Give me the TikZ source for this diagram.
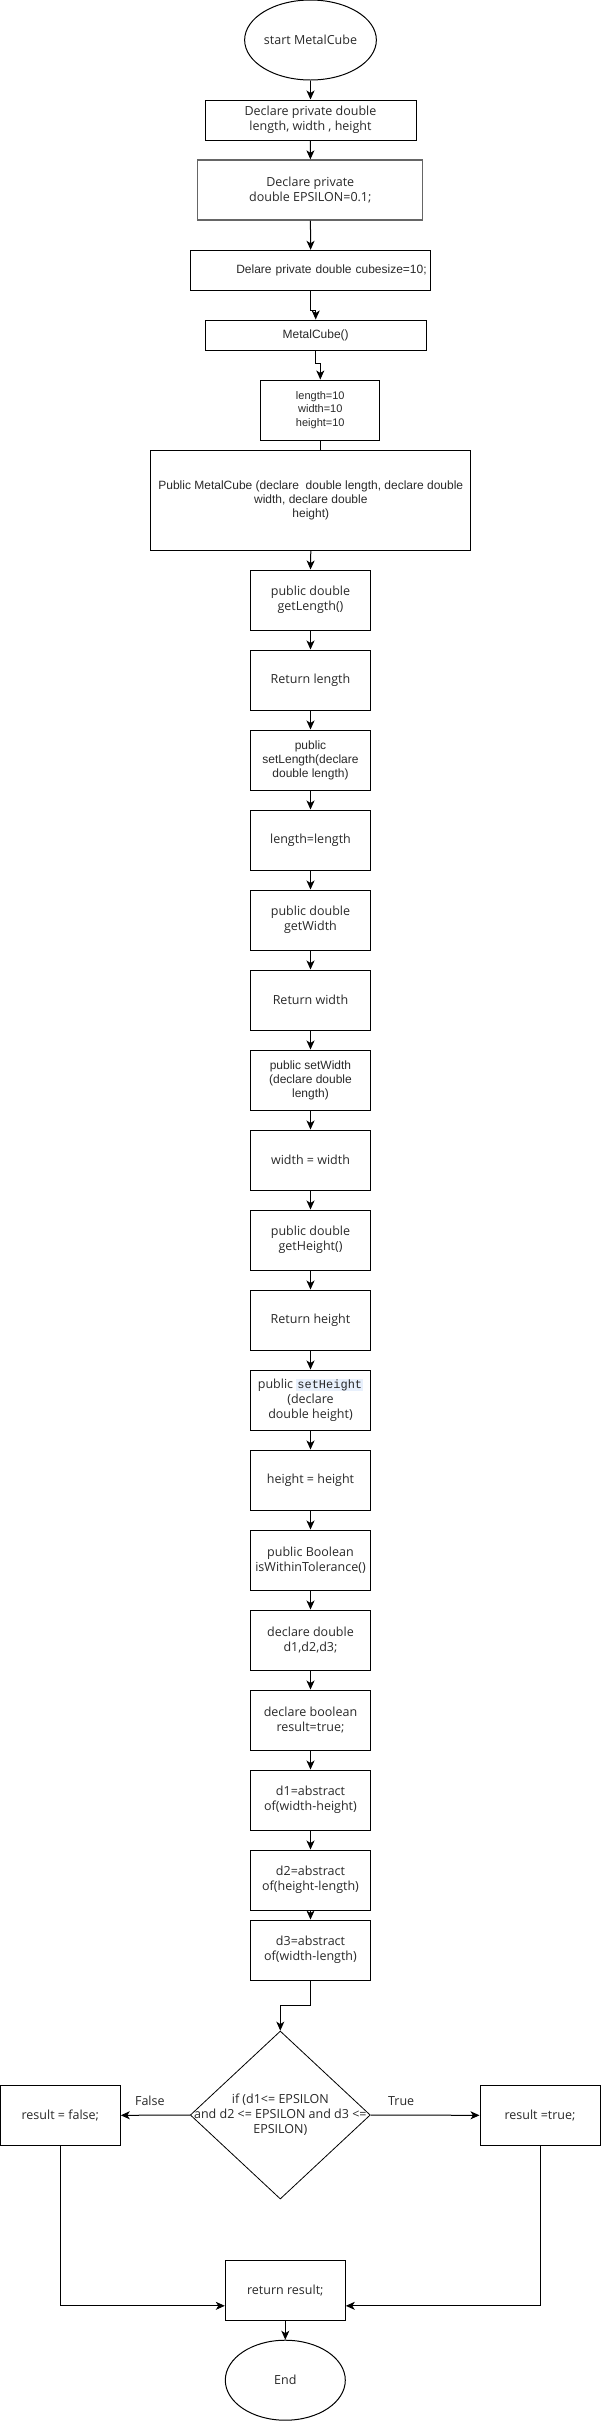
\documentclass[tikz,border=0pt]{standalone}
\usepackage{fontspec}
\usepackage{tikz}
\usetikzlibrary{arrows.meta, calc, shapes.geometric}
\newfontfamily\uifamily{Open Sans}
\newfontfamily\arialfamily{Liberation Sans}
\newfontfamily\codefamily{Liberation Mono}
\definecolor{codebg}{RGB}{232,240,252}
\definecolor{inkgray}{RGB}{40,40,40}
\newcommand{\uitext}{\uifamily\fontsize{12.5pt}{15pt}\selectfont}
\newcommand{\artext}{\arialfamily\fontsize{12pt}{14pt}\selectfont}
\newcommand{\codehl}[1]{{\setlength{\fboxsep}{0pt}\colorbox{codebg}{\rule[-2.5pt]{0pt}{11.5pt}\hspace{1pt}\codefamily\fontsize{12pt}{14pt}\selectfont #1\hspace{1pt}}}}

\begin{document}
\begin{tikzpicture}[x=1pt, y=-1pt,
		terminal/.style={ellipse, draw, line width=1pt, inner sep=0pt, font=\uitext, text=inkgray},
		procbox/.style={rectangle, draw, line width=1pt, minimum width=120pt, minimum height=60pt,
			inner sep=2pt, align=center, font=\uitext, text=inkgray},
		arbox/.style={procbox, font=\artext},
		decision/.style={diamond, draw, line width=0.8pt, minimum width=180pt, minimum height=168pt, inner sep=0pt},
		flow/.style={-{Stealth[length=9pt, width=8pt, inset=2.5pt]}, line width=1pt},
		branch/.style={font=\uitext, text=inkgray}]
	\useasboundingbox (0,0) rectangle (601,2421);
	%--- Fields and constructors ---
	\node[terminal, minimum width=121pt, minimum height=80pt] (start) at (310.5,40) {start MetalCube};
	\node[procbox, minimum width=211pt, minimum height=40pt] (declDims) at (310.5,120)
	{Declare private double\\length, width , height};
	\node[procbox, minimum width=225pt, draw=black!60, line width=1.3pt] (declEps) at (310.3,190)
	{Declare private\\double EPSILON=0.1;};
	\node[arbox, minimum width=240pt, minimum height=40pt, text width=232pt, align=right] (declSize) at (310.7,270.3)
	{Delare private double cubesize=10;};
	\node[arbox, minimum width=221pt, minimum height=30pt] (noArg) at (315.7,335) {MetalCube()};
	\node[arbox, minimum width=119pt, font=\arialfamily\fontsize{11pt}{13.5pt}\selectfont] (initVals) at (320.3,410)
	{length=10\\width=10\\height=10};
	\node[arbox, minimum width=320pt, minimum height=100pt] (ctor) at (310.8,500)
	{Public MetalCube (declare\ \ double length, declare double\\width, declare double\\height)};
	%--- Getters and setters ---
	\node[procbox] (getLen) at (310.5,600) {public double\\getLength()};
	\node[procbox] (retLen) at (310.5,680) {Return length};
	\node[arbox] (setLen) at (310.5,760) {public\\setLength(declare\\double length)};
	\node[procbox] (asgLen) at (310.5,840) {length=length};
	\node[procbox] (getWid) at (310.5,920) {public double\\getWidth};
	\node[procbox] (retWid) at (310.5,1000) {Return width};
	\node[arbox] (setWid) at (310.5,1080) {public setWidth\\(declare double\\length)};
	\node[procbox] (asgWid) at (310.5,1160) {width = width};
	\node[procbox] (getHgt) at (310.5,1240) {public double\\getHeight()};
	\node[procbox] (retHgt) at (310.5,1320) {Return height};
	\node[procbox] (setHgt) at (310.5,1400) {public \codehl{setHeight}\\(declare\\double height)};
	\node[procbox] (asgHgt) at (310.5,1480) {height = height};
	%--- Tolerance check ---
	\node[procbox] (tol) at (310.5,1560) {public Boolean\\isWithinTolerance()};
	\node[procbox] (declD) at (310.5,1640) {declare double\\d1,d2,d3;};
	\node[procbox] (declRes) at (310.5,1720) {declare boolean\\result=true;};
	\node[procbox] (dOne) at (310.5,1800) {d1=abstract\\of(width-height)};
	\node[procbox] (dTwo) at (310.5,1880) {d2=abstract\\of(height-length)};
	\node[procbox] (dThree) at (310.5,1950) {d3=abstract\\of(width-length)};
	\node[decision, label={[branch, align=center]center:{if (d1<= EPSILON\\and d2 <= EPSILON and d3 <=\\EPSILON)}}]
	(cond) at (280.3,2115) {};
	\node[procbox] (falseBox) at (60.3,2115.3) {result = false;};
	\node[procbox] (trueBox) at (540,2115.3) {result =true;};
	\node[procbox] (ret) at (285.3,2290.3) {return result;};
	\node[terminal, minimum width=120pt, minimum height=80pt] (finish) at (285.3,2380.2) {End};
	%--- Connectors ---
	\draw[flow] (start) -- (declDims);
	\draw[flow] (declDims) -- (declEps);
	\draw[flow] (declEps) -- (declSize);
	\draw[flow] (declSize.south) -- ++(0,20) -| (noArg.north);
	\draw[flow] (noArg.south) -- ++(0,13) -| (initVals.north);
	\draw[line width=1pt] (initVals.south) -- (initVals.south |- ctor.north);
	\draw[flow] (ctor.south) -- (getLen.north);
	\draw[flow] (getLen) -- (retLen);
	\draw[flow] (retLen) -- (setLen);
	\draw[flow] (setLen) -- (asgLen);
	\draw[flow] (asgLen) -- (getWid);
	\draw[flow] (getWid) -- (retWid);
	\draw[flow] (retWid) -- (setWid);
	\draw[flow] (setWid) -- (asgWid);
	\draw[flow] (asgWid) -- (getHgt);
	\draw[flow] (getHgt) -- (retHgt);
	\draw[flow] (retHgt) -- (setHgt);
	\draw[flow] (setHgt) -- (asgHgt);
	\draw[flow] (asgHgt) -- (tol);
	\draw[flow] (tol) -- (declD);
	\draw[flow] (declD) -- (declRes);
	\draw[flow] (declRes) -- (dOne);
	\draw[flow] (dOne) -- (dTwo);
	\draw[flow] (dTwo) -- (dThree);
	\draw[flow] (dThree.south) -- ++(0,25) -| (cond.north);
	\draw[flow] (cond.west) -- node[branch, above=6pt, pos=0.58] {False} (falseBox.east);
	\draw[flow] (cond.east) -- node[branch, above=6pt, pos=0.28] {True} (trueBox.west);
	\draw[flow] (falseBox.south) |- ([yshift=15pt]ret.south west);
	\draw[flow] (trueBox.south) |- ([yshift=15pt]ret.south east);
	\draw[flow] (ret) -- (finish);
\end{tikzpicture}
\end{document}
